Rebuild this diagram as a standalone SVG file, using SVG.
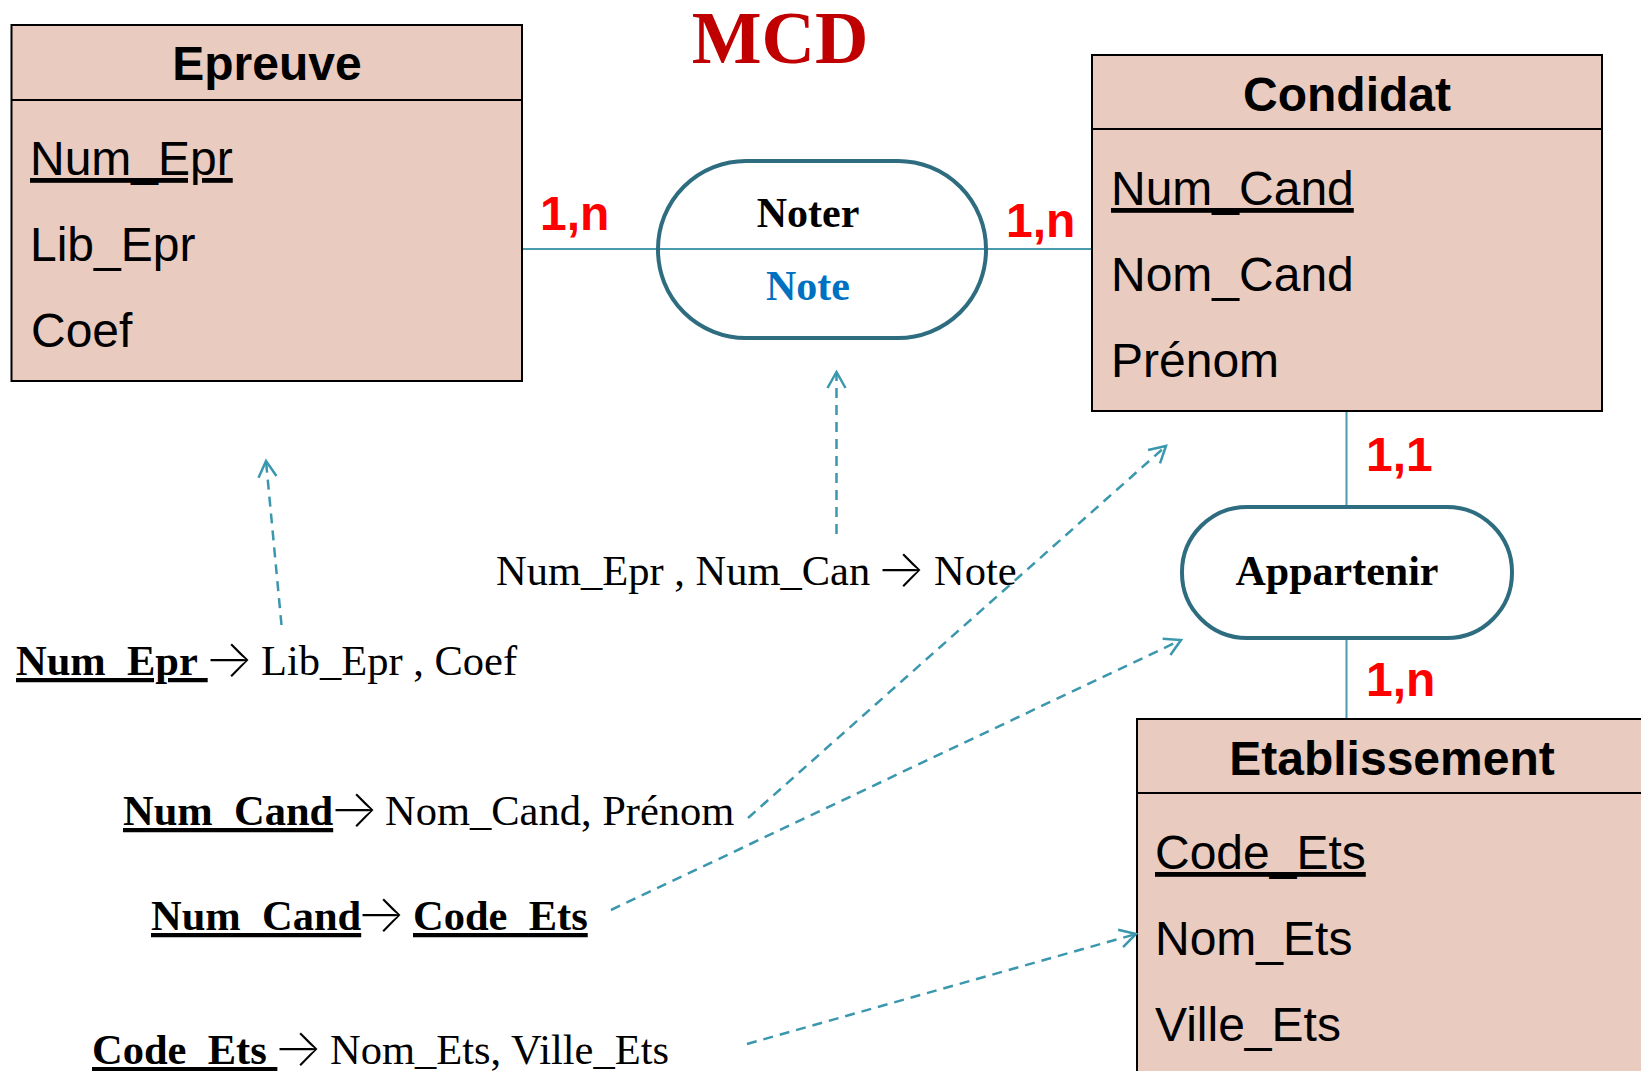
<svg xmlns="http://www.w3.org/2000/svg" width="1641" height="1071" viewBox="0 0 1641 1071">
  <style>
    .ent{fill:#E9CBC0;stroke:#000;stroke-width:2}
    .sep{stroke:#000;stroke-width:2}
    .title{font-family:"Liberation Sans",Arial,sans-serif;font-weight:bold;font-size:48px;text-anchor:middle;fill:#000}
    .attr{font-family:"Liberation Sans",Arial,sans-serif;font-size:48px;fill:#000}
    .key{text-decoration:underline}
    .assoc{fill:none;stroke:#2E6C80;stroke-width:4}
    .aname{font-family:"Liberation Serif","Times New Roman",serif;font-weight:bold;font-size:42px;text-anchor:middle;fill:#000}
    .card{font-family:"Liberation Sans",Arial,sans-serif;font-weight:bold;font-size:48px;fill:#FF0000}
    .link{stroke:#4A9BB0;stroke-width:2;fill:none}
    .dep{stroke:#3A97AD;stroke-width:2.5;fill:none;stroke-dasharray:10 7}
    .fd{font-family:"Liberation Serif","Times New Roman",serif;font-size:42.5px;fill:#000}
    .b{font-weight:bold;text-decoration:underline}
    .arr{font-family:Inter,"DejaVu Sans",sans-serif;font-size:52px;font-weight:200}
  </style>
  <defs>
    <marker id="open" viewBox="-20 -12 24 24" markerWidth="24" markerHeight="24" refX="0" refY="0" orient="auto" markerUnits="userSpaceOnUse">
      <path d="M-16,-9 L0,0 L-16,9" fill="none" stroke="#3A97AD" stroke-width="2.5"/>
    </marker>
  </defs>

  <rect width="1641" height="1071" fill="#fff"/>

  <!-- title -->
  <text x="780" y="63" text-anchor="middle" font-family="'Liberation Serif','Times New Roman',serif" font-weight="bold" font-size="74" fill="#C00000">MCD</text>

  <!-- association links -->
  <g id="connectors">
    <line class="link" x1="522" y1="249" x2="1092" y2="249"/>
    <line class="link" x1="1346.5" y1="411" x2="1346.5" y2="507"/>
    <line class="link" x1="1346.5" y1="638" x2="1346.5" y2="719"/>
    <text class="card" x="540" y="230">1,n</text>
    <text class="card" x="1006" y="237">1,n</text>
    <text class="card" x="1366" y="471">1,1</text>
    <text class="card" x="1366" y="696">1,n</text>
  </g>

  <!-- entity: Epreuve -->
  <g id="epreuve">
    <rect class="ent" x="11.5" y="25" width="510.5" height="356"/>
    <line class="sep" x1="11.5" y1="100" x2="522" y2="100"/>
    <text class="title" x="267" y="80">Epreuve</text>
    <text class="attr key" x="30" y="175">Num_Epr</text>
    <text class="attr" x="30" y="261">Lib_Epr</text>
    <text class="attr" x="31" y="347">Coef</text>
  </g>

  <!-- entity: Condidat -->
  <g id="condidat">
    <rect class="ent" x="1092" y="55" width="510" height="356"/>
    <line class="sep" x1="1092" y1="129" x2="1602" y2="129"/>
    <text class="title" x="1347" y="111">Condidat</text>
    <text class="attr key" x="1111" y="205">Num_Cand</text>
    <text class="attr" x="1111" y="291">Nom_Cand</text>
    <text class="attr" x="1111" y="377">Prénom</text>
  </g>

  <!-- entity: Etablissement -->
  <g id="etablissement">
    <rect class="ent" x="1137" y="719" width="510" height="370"/>
    <line class="sep" x1="1137" y1="793" x2="1647" y2="793"/>
    <text class="title" x="1392" y="775">Etablissement</text>
    <text class="attr key" x="1155" y="869">Code_Ets</text>
    <text class="attr" x="1155" y="955">Nom_Ets</text>
    <text class="attr" x="1155" y="1041">Ville_Ets</text>
  </g>

  <!-- association: Noter -->
  <g id="noter">
    <rect class="assoc" x="658" y="161" width="328" height="177" rx="88" ry="88"/>
    <text class="aname" x="808" y="227">Noter</text>
    <text class="aname" x="808" y="300" style="fill:#0070C0">Note</text>
  </g>

  <!-- association: Appartenir -->
  <g id="appartenir">
    <rect class="assoc" x="1182" y="507" width="330" height="131" rx="65" ry="65" style="fill:#fff"/>
    <text class="aname" x="1337" y="585">Appartenir</text>
  </g>

  <!-- functional dependencies -->
  <g id="dependencies">
    <text class="fd" x="16" y="675"><tspan class="b">Num_Epr </tspan><tspan class="arr" x="204" dy="2">→</tspan><tspan x="261" dy="-2">Lib_Epr , Coef</tspan></text>
    <text class="fd" x="496" y="585">Num_Epr , Num_Can <tspan class="arr" x="876" dy="2">→</tspan><tspan x="934" dy="-2">Note</tspan></text>
    <text class="fd" x="123" y="825"><tspan class="b">Num_Cand</tspan><tspan class="arr" x="329" dy="2">→</tspan><tspan x="385" dy="-2">Nom_Cand, Prénom</tspan></text>
    <text class="fd" x="151" y="930"><tspan class="b">Num_Cand</tspan><tspan class="arr" x="356" dy="2">→</tspan><tspan class="b" x="413" dy="-2">Code_Ets</tspan></text>
    <text class="fd" x="92" y="1064"><tspan class="b">Code_Ets </tspan><tspan class="arr" x="273" dy="2">→</tspan><tspan x="330" dy="-2">Nom_Ets, Ville_Ets</tspan></text>
  </g>

  <!-- dependency arrows -->
  <g id="dep-arrows">
    <line class="dep" x1="281.5" y1="625" x2="266" y2="461" marker-end="url(#open)"/>
    <line class="dep" x1="836.5" y1="534" x2="836.5" y2="372" marker-end="url(#open)"/>
    <line class="dep" x1="748" y1="818" x2="1166" y2="446" marker-end="url(#open)"/>
    <line class="dep" x1="611" y1="910" x2="1181" y2="640" marker-end="url(#open)"/>
    <line class="dep" x1="747" y1="1044" x2="1136" y2="934" marker-end="url(#open)"/>
  </g>
</svg>
